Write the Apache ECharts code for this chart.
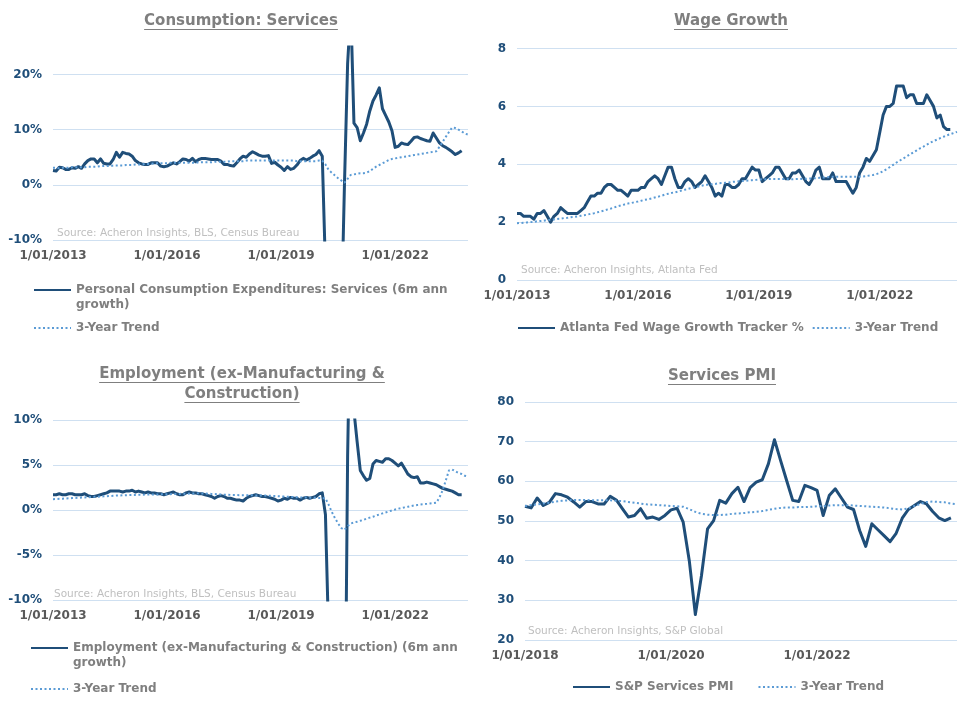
<!DOCTYPE html>
<html><head><meta charset="utf-8">
<script src="https://cdn.jsdelivr.net/npm/echarts@6/dist/echarts.min.js"></script>
<style>html,body{margin:0;padding:0;background:#fff}#chart{width:972px;height:709px}</style>
</head><body><div id="chart"></div>
<script>
// ---------- DATA ----------
function monthCats(y0, n) {
  const a = [];
  for (let i = 0; i < n; i++) {
    const y = y0 + Math.floor(i / 12), m = i % 12 + 1;
    a.push('1/' + String(m).padStart(2, '0') + '/' + y);
  }
  return a;
}
const monthsLong = monthCats(2013, 132);   // 1/01/2013 .. 1/12/2023
const monthsPmi = monthCats(2018, 72);     // 1/01/2018 .. 1/12/2023

const pceServices = [
  2.6,2.5,3.2,3.1,2.8,2.8,3.1,3.0,3.3,3.0,
  3.8,4.4,4.7,4.7,4.0,4.7,3.9,3.8,3.8,4.6,
  5.9,5.0,5.9,5.7,5.6,5.2,4.4,4.0,3.8,3.7,
  3.7,4.0,4.0,4.0,3.4,3.3,3.4,3.7,4.0,3.8,
  4.2,4.7,4.6,4.3,4.8,4.2,4.6,4.8,4.8,4.7,
  4.6,4.6,4.6,4.3,3.7,3.7,3.5,3.4,4.0,4.7,
  5.2,5.0,5.6,6.0,5.7,5.4,5.2,5.2,5.3,3.9,
  4.1,3.6,3.2,2.6,3.3,2.8,3.0,3.6,4.4,4.8,
  4.5,4.8,5.2,5.5,6.2,5.2,-15,-45,-40,-32,
  -28,-25,0,22,32,11.2,10.4,8.0,9.4,11.0,
  13.4,15.2,16.3,17.6,13.8,12.6,11.4,9.8,6.8,7.0,
  7.6,7.4,7.3,7.9,8.6,8.7,8.4,8.2,8.0,7.9,
  9.4,8.5,7.6,7.1,6.8,6.4,6.0,5.5,5.8,6.2
];
const pceTrend = [
  3.1,3.1,3.0,3.1,3.1,3.1,3.2,3.2,3.2,3.2,
  3.2,3.3,3.3,3.3,3.3,3.4,3.4,3.4,3.4,3.5,
  3.5,3.5,3.5,3.6,3.6,3.6,3.7,3.7,3.7,3.8,
  3.8,3.8,3.9,3.9,3.9,3.9,3.9,4.0,4.0,4.0,
  4.0,4.0,4.0,4.0,4.0,4.0,4.1,4.1,4.1,4.1,
  4.1,4.2,4.2,4.2,4.2,4.2,4.3,4.3,4.3,4.3,
  4.3,4.4,4.4,4.4,4.4,4.4,4.4,4.4,4.4,4.4,
  4.4,4.4,4.4,4.4,4.4,4.4,4.4,4.3,4.3,4.3,
  4.3,4.3,4.3,4.3,4.4,4.4,3.7,2.7,2.2,1.7,
  1.2,0.8,0.4,1.1,1.8,1.9,2.0,2.1,2.1,2.2,
  2.5,2.9,3.3,3.6,3.9,4.2,4.5,4.7,4.8,4.9,
  5.0,5.1,5.2,5.3,5.4,5.5,5.6,5.7,5.8,5.9,
  6.0,6.1,6.9,7.8,8.7,9.6,10.4,10.3,10.0,9.7,
  9.3,9.1
];
const wageGrowth = [
  2.3,2.3,2.2,2.2,2.2,2.1,2.3,2.3,2.4,2.2,
  2.0,2.2,2.3,2.5,2.4,2.3,2.3,2.3,2.3,2.4,
  2.5,2.7,2.9,2.9,3.0,3.0,3.2,3.3,3.3,3.2,
  3.1,3.1,3.0,2.9,3.1,3.1,3.1,3.2,3.2,3.4,
  3.5,3.6,3.5,3.3,3.6,3.9,3.9,3.5,3.2,3.2,
  3.4,3.5,3.4,3.2,3.3,3.4,3.6,3.4,3.2,2.9,
  3.0,2.9,3.3,3.3,3.2,3.2,3.3,3.5,3.5,3.7,
  3.9,3.8,3.8,3.4,3.5,3.6,3.7,3.9,3.9,3.7,
  3.5,3.5,3.7,3.7,3.8,3.6,3.4,3.3,3.5,3.8,
  3.9,3.5,3.5,3.5,3.7,3.4,3.4,3.4,3.4,3.2,
  3.0,3.2,3.7,3.9,4.2,4.1,4.3,4.5,5.1,5.7,
  6.0,6.0,6.1,6.7,6.7,6.7,6.3,6.4,6.4,6.1,
  6.1,6.1,6.4,6.2,6.0,5.6,5.7,5.3,5.2,5.2
];
const wageTrend = [
  1.96,1.97,1.98,1.99,2.00,2.01,2.03,2.04,2.05,2.07,
  2.08,2.09,2.11,2.12,2.14,2.15,2.17,2.18,2.20,2.22,
  2.24,2.26,2.29,2.31,2.34,2.37,2.40,2.44,2.47,2.51,
  2.55,2.58,2.61,2.64,2.66,2.69,2.71,2.74,2.77,2.79,
  2.82,2.85,2.88,2.91,2.95,2.98,3.01,3.03,3.06,3.09,
  3.12,3.15,3.18,3.21,3.23,3.26,3.28,3.30,3.31,3.32,
  3.34,3.35,3.36,3.37,3.39,3.40,3.41,3.42,3.43,3.44,
  3.45,3.46,3.47,3.48,3.48,3.49,3.49,3.49,3.49,3.49,
  3.49,3.48,3.48,3.49,3.49,3.50,3.50,3.51,3.51,3.52,
  3.53,3.54,3.55,3.56,3.57,3.57,3.57,3.57,3.57,3.57,
  3.57,3.57,3.57,3.58,3.59,3.61,3.63,3.66,3.70,3.76,
  3.83,3.90,3.98,4.06,4.13,4.20,4.27,4.34,4.41,4.48,
  4.55,4.61,4.68,4.74,4.80,4.85,4.90,4.95,5.00,5.04,
  5.08,5.12
];
const employment = [
  1.7,1.7,1.8,1.7,1.7,1.8,1.8,1.7,1.7,1.7,
  1.8,1.6,1.5,1.5,1.6,1.7,1.8,1.9,2.1,2.1,
  2.1,2.1,2.0,2.1,2.1,2.2,2.0,2.1,2.0,1.9,
  2.0,1.9,1.9,1.8,1.8,1.7,1.8,1.9,2.0,1.8,
  1.7,1.7,1.9,2.0,1.9,1.9,1.8,1.8,1.7,1.6,
  1.5,1.3,1.5,1.6,1.5,1.3,1.3,1.2,1.1,1.1,
  1.0,1.3,1.5,1.6,1.7,1.6,1.5,1.5,1.4,1.3,
  1.2,1.0,1.1,1.3,1.2,1.4,1.3,1.3,1.1,1.3,
  1.4,1.3,1.4,1.5,1.8,1.9,-0.5,-14,-35,-30,
  -28,-30,-34,6,26,11,7.6,4.4,3.8,3.3,
  3.5,5.1,5.5,5.4,5.3,5.7,5.7,5.5,5.2,4.9,
  5.2,4.6,4.0,3.7,3.6,3.7,3.0,3.0,3.1,3.0,
  2.9,2.8,2.6,2.4,2.3,2.2,2.1,1.9,1.7,1.7
];
const employmentTrend = [
  1.20,1.22,1.24,1.26,1.28,1.30,1.32,1.34,1.36,1.38,
  1.40,1.42,1.44,1.46,1.48,1.50,1.52,1.54,1.56,1.58,
  1.60,1.61,1.63,1.64,1.66,1.67,1.68,1.69,1.70,1.71,
  1.72,1.72,1.73,1.73,1.74,1.74,1.75,1.76,1.77,1.78,
  1.79,1.80,1.81,1.82,1.83,1.84,1.85,1.84,1.83,1.81,
  1.79,1.77,1.75,1.73,1.71,1.70,1.68,1.67,1.66,1.65,
  1.65,1.64,1.64,1.63,1.62,1.62,1.61,1.60,1.59,1.57,
  1.55,1.53,1.51,1.49,1.47,1.45,1.43,1.41,1.40,1.39,
  1.38,1.37,1.36,1.35,1.33,1.31,1.30,0.6,-0.2,-0.9,
  -1.5,-2.0,-2.2,-1.8,-1.5,-1.4,-1.3,-1.2,-1.1,-0.95,
  -0.85,-0.75,-0.62,-0.50,-0.38,-0.27,-0.16,-0.05,0.05,0.15,
  0.22,0.29,0.36,0.43,0.50,0.56,0.60,0.64,0.68,0.72,
  0.76,0.81,1.4,2.2,3.3,4.4,4.5,4.3,4.1,4.0,
  3.8,3.7
];
const servicesPmi = [
  53.7,53.3,55.8,53.9,54.7,56.9,56.6,56.0,54.8,53.5,
  54.9,54.9,54.3,54.3,56.2,55.3,53.1,51.0,51.4,53.1,
  50.7,51.0,50.4,51.4,52.8,53.2,49.7,40.0,26.4,36.2,
  48.0,50.1,55.2,54.5,56.9,58.5,54.9,58.4,59.8,60.4,
  64.4,70.5,65.3,60.2,55.2,54.9,59.0,58.4,57.7,51.4,
  56.4,58.1,55.8,53.5,52.9,47.6,43.6,49.3,47.8,46.3,
  44.8,46.9,50.7,52.9,53.9,54.9,54.3,52.4,50.8,50.1,
  50.8
];
const pmiTrend = [
  53.8,54.0,54.2,54.4,54.6,54.9,55.1,55.2,55.3,55.3,
  55.3,55.2,55.2,55.2,55.2,55.1,55.0,54.8,54.6,54.4,
  54.2,54.1,54.0,53.9,53.8,53.7,53.6,53.0,52.3,51.8,
  51.6,51.5,51.5,51.6,51.8,51.9,52.0,52.2,52.3,52.5,
  52.8,53.1,53.3,53.4,53.4,53.5,53.5,53.6,53.7,53.8,
  53.9,54.0,54.0,54.0,53.9,53.8,53.7,53.6,53.5,53.4,
  53.2,53.0,52.9,53.2,53.8,54.3,54.8,54.9,54.8,54.7,
  54.4,54.2
];

const names = {
  pce: 'Personal Consumption Expenditures: Services (6m ann growth)',
  wage: 'Atlanta Fed Wage Growth Tracker %',
  emp: 'Employment (ex-Manufacturing & Construction) (6m ann growth)',
  pmi: 'S&P Services PMI',
  trend: '3-Year Trend'
};
const titles = ['Consumption: Services', 'Wage Growth', 'Employment (ex-Manufacturing &\nConstruction)', 'Services PMI'];
const sources = ['Source: Acheron Insights, BLS, Census Bureau', 'Source: Acheron Insights, Atlanta Fed',
                 'Source: Acheron Insights, BLS, Census Bureau', 'Source: Acheron Insights, S&P Global'];

// ---------- STYLE ----------
const FONT = 'DejaVu Sans';
const NAVY = '#1f4e79', LIGHT = '#5b9bd5', GRID = '#cfe0f1';
const titleStyle = {fontFamily: FONT, fontSize: 15, fontWeight: 'bold', color: '#7f7f7f', lineHeight: 20};
const srcStyle = {fontFamily: FONT, fontSize: 10.5, fontWeight: 'normal', color: '#bfbfbf', lineHeight: 14};
const legText = {fontFamily: FONT, fontSize: 12, fontWeight: 'bold', color: '#7f7f7f', lineHeight: 15};

const grids = [
  {left: 53, top: 47, width: 415, height: 193},
  {left: 517, top: 48.5, width: 440, height: 231.5},
  {left: 53, top: 420, width: 415, height: 180},
  {left: 525, top: 402, width: 432, height: 238}
];

function xAxis(i, cats, interval) {
  return {type: 'category', gridIndex: i, data: cats, boundaryGap: false,
    axisLine: {show: false, onZero: false}, axisTick: {show: false}, splitLine: {show: false},
    axisLabel: {interval: interval, margin: 10, color: '#595959', fontFamily: FONT, fontSize: 12, fontWeight: 'bold'}};
}
function yAxis(i, min, max, interval, fmt, hideMax) {
  return {type: 'value', gridIndex: i, min: min, max: max, interval: interval,
    axisLine: {show: false}, axisTick: {show: false},
    splitLine: {show: true, showMaxLine: !hideMax, lineStyle: {color: GRID, width: 1}},
    axisLabel: {formatter: fmt, margin: 11, showMaxLabel: !hideMax, color: NAVY, fontFamily: FONT, fontSize: 12, fontWeight: 'bold'}};
}
function mainSeries(name, i, data) {
  return {type: 'line', name: name, xAxisIndex: i, yAxisIndex: i, data: data, symbol: 'none', z: 3,
    color: NAVY, lineStyle: {color: NAVY, width: 3, join: 'round'}, animation: false};
}
function trendSeries(i, data) {
  return {type: 'line', name: names.trend, xAxisIndex: i, yAxisIndex: i, data: data, symbol: 'none', z: 4,
    color: LIGHT, lineStyle: {color: LIGHT, width: 2, type: [2, 2.5]}, animation: false};
}

const yAx = [
  yAxis(0, -10, 25, 10, '{value}%', true),
  yAxis(1, 0, 8, 2, '{value}', false),
  yAxis(2, -10, 10, 5, '{value}%', false),
  yAxis(3, 20, 80, 10, '{value}', false)
];

// ---------- TITLES / SOURCES ----------
const titlePos = [[241, 11], [731, 11], [242, 364], [722, 366]];
const srcPos = [[57, 226], [521, 263], [54, 587], [528, 624]];
const titleComps = [];
titles.forEach((t, i) => titleComps.push({text: t, left: titlePos[i][0], top: titlePos[i][1], textAlign: 'center', padding: 0, textStyle: titleStyle}));
sources.forEach((t, i) => titleComps.push({text: t, left: srcPos[i][0], top: srcPos[i][1], textAlign: 'left', padding: 0, textStyle: srcStyle}));

// underlines measured from the rendered title font
const ctx = document.createElement('canvas').getContext('2d');
ctx.font = 'bold 15px "' + FONT + '"';
const graphics = [];
titles.forEach((t, i) => {
  t.split('\n').forEach((line, k) => {
    const w = ctx.measureText(line).width;
    const cx = titlePos[i][0], y = titlePos[i][1] + 18.5 + k * 20;
    graphics.push({type: 'line', silent: true, shape: {x1: cx - w / 2, y1: y, x2: cx + w / 2, y2: y}, style: {stroke: '#7f7f7f', lineWidth: 1}});
  });
});

// ---------- LEGENDS ----------
function legend(data, left, top, orient, gap, wrapWidth) {
  const ts = Object.assign({}, legText);
  const lg = {data: data, left: left, top: top, orient: orient || 'horizontal', itemGap: gap || 8, padding: 0,
    itemWidth: 37, itemHeight: 12, itemStyle: {opacity: 0}, textStyle: ts, selectedMode: false};
  if (wrapWidth) {
    ts.width = wrapWidth; ts.overflow = 'break';
    // leading blank line keeps the icon level with the first wrapped line
    lg.formatter = function (n) { return '\n' + n; };
  }
  return lg;
}
const legends = [
  legend([names.pce], 33, 267.5, 'vertical', 8, 395),
  legend([names.trend], 33, 320.5, 'vertical'),
  legend([names.wage, names.trend], 517, 320.5, 'horizontal', 8),
  legend([names.emp], 30, 625.5, 'vertical', 8, 395),
  legend([names.trend], 30, 681.5, 'vertical'),
  legend([names.pmi, names.trend], 572, 679.5, 'horizontal', 24)
];

const chart = echarts.init(document.getElementById('chart'), null, {renderer: 'canvas'});
chart.setOption({
  backgroundColor: '#ffffff',
  animation: false,
  title: titleComps,
  legend: legends,
  grid: grids,
  xAxis: [xAxis(0, monthsLong, 35), xAxis(1, monthsLong, 35), xAxis(2, monthsLong, 35), xAxis(3, monthsPmi, 23)],
  yAxis: yAx,
  series: [
    mainSeries(names.pce, 0, pceServices), trendSeries(0, pceTrend),
    mainSeries(names.wage, 1, wageGrowth), trendSeries(1, wageTrend),
    mainSeries(names.emp, 2, employment), trendSeries(2, employmentTrend),
    mainSeries(names.pmi, 3, servicesPmi), trendSeries(3, pmiTrend)
  ],
  graphic: graphics
});
</script></body></html>
